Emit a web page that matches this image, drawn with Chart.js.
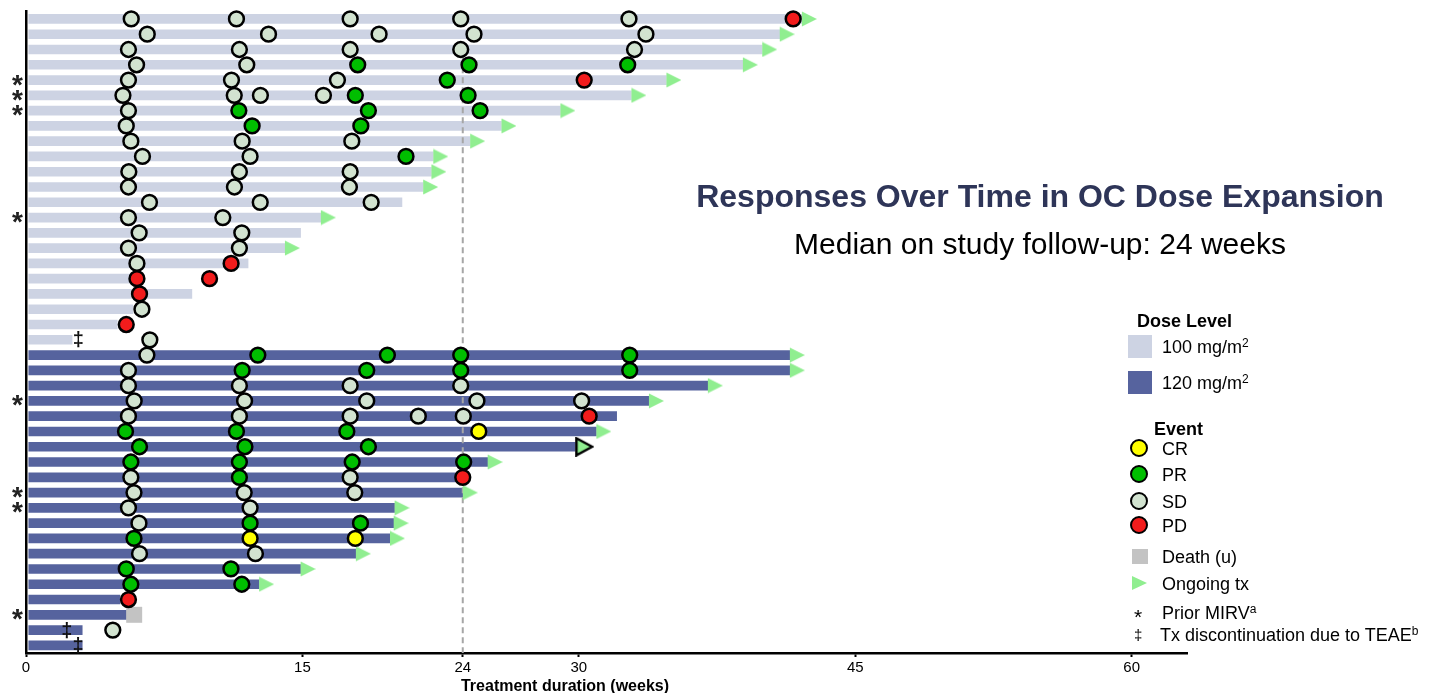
<!DOCTYPE html>
<html>
<head>
<meta charset="utf-8">
<title>Responses Over Time in OC Dose Expansion</title>
<script src="https://cdn.jsdelivr.net/npm/chart.js@4.4.1/dist/chart.umd.min.js"></script>
<style>
    body { margin: 0; background: #fff; font-family: 'Liberation Sans', Arial, sans-serif; }
    #wrap { position: relative; width: 1431px; height: 693px; overflow: hidden; }
    #swimmer { position: absolute; left: 0; top: 0; }
    .txt { position: absolute; white-space: nowrap; transform: translateY(-50%); color: #000; }
    .lg { font-size: 18px; line-height: 22px; }
    .lg sup { font-size: 12px; line-height: 0; vertical-align: 6px; }
    .bold { font-weight: bold; }
    .sw { position: absolute; width: 24px; height: 23px; }
    .dot { position: absolute; width: 14px; height: 14px; border: 2.5px solid #000; border-radius: 50%; }
</style>
</head>
<body>
<div id="wrap">
    <canvas id="swimmer" width="1431" height="693"></canvas>

    <div class="txt bold" style="left:640px; width:800px; text-align:center; top:196px; font-size:32px; line-height:38px; color:#2E3558;">Responses Over Time in OC Dose Expansion</div>
    <div class="txt" style="left:640px; width:800px; text-align:center; top:244px; font-size:30px; line-height:36px;">Median on study follow-up: 24 weeks</div>

    <div class="txt bold" style="left:365px; width:400px; text-align:center; top:686px; font-size:16px; line-height:18px;">Treatment duration (weeks)</div>

    <div class="txt lg bold" style="left:1137px; top:321px;">Dose Level</div>
    <div class="sw" style="left:1128px; top:335px; background:#CDD3E3;"></div>
    <div class="txt lg" style="left:1162px; top:347px;">100 mg/m<sup>2</sup></div>
    <div class="sw" style="left:1128px; top:371px; background:#56639E;"></div>
    <div class="txt lg" style="left:1162px; top:383px;">120 mg/m<sup>2</sup></div>

    <div class="txt lg bold" style="left:1154px; top:429px;">Event</div>
    <div class="dot" style="left:1129.5px; top:438.5px; background:#FFFF00;"></div>
    <div class="txt lg" style="left:1162px; top:449px;">CR</div>
    <div class="dot" style="left:1129.5px; top:464.5px; background:#00BE00;"></div>
    <div class="txt lg" style="left:1162px; top:475px;">PR</div>
    <div class="dot" style="left:1129.5px; top:492px; background:#D2E3D0;"></div>
    <div class="txt lg" style="left:1162px; top:502px;">SD</div>
    <div class="dot" style="left:1129.5px; top:516px; background:#F21C1C;"></div>
    <div class="txt lg" style="left:1162px; top:526px;">PD</div>
    <div class="sw" style="left:1132px; top:549px; width:16px; height:15px; background:#C3C3C3;"></div>
    <div class="txt lg" style="left:1162px; top:557px;">Death (u)</div>
    <div style="position:absolute; left:1132px; top:576px; width:0; height:0; border-top:7px solid transparent; border-bottom:7px solid transparent; border-left:15px solid #90EE90;"></div>
    <div class="txt lg" style="left:1162px; top:584px;">Ongoing tx</div>
    <div class="txt" style="left:1134px; top:617px; font-size:21px; line-height:20px;">*</div>
    <div class="txt lg" style="left:1162px; top:613px;">Prior MIRV<sup>a</sup></div>
    <div class="txt" style="left:1134px; top:635px; font-size:15px; line-height:14px;">‡</div>
    <div class="txt lg" style="left:1160px; top:635px;">Tx discontinuation due to TEAE<sup>b</sup></div>
</div>

<script>
// um paciente por linha, de cima para baixo
const patientIds = [1, 2, 3, 4, 5, 6, 7, 8, 9, 10, 11, 12, 13, 14, 15, 16, 17, 18, 19, 20, 21,
    22, 23, 24, 25, 26, 27, 28, 29, 30, 31, 32, 33, 34, 35, 36, 37, 38, 39, 40, 41, 42];

// duração do tratamento (semanas), pacientes 1-22 a 100 mg/m2, 23-42 a 120 mg/m2
const weeks100 = [42.1, 40.9, 39.95, 38.9, 34.75, 32.85, 29.0, 25.8, 24.1, 22.1, 22.0,
    21.55, 20.4, 16.0, 14.9, 14.05, 12.05, 6.0, 9.0, 5.8, 4.95, 2.5];
const weeks120 = [41.45, 41.45, 37.0, 33.8, 32.05, 30.95, 29.8, 25.05, 23.7, 23.7, 20.0,
    19.95, 19.75, 17.9, 14.9, 12.65, 5.1, 5.45, 3.05, 3.05];

// eventos: [paciente, semana]
const crEvents = [[28, 24.57], [35, 12.16], [35, 17.87]];
const prEvents = [
    [4, 18.0], [4, 24.04], [4, 32.65], [5, 22.86], [6, 17.87], [6, 23.99],
    [7, 11.55], [7, 18.58], [7, 24.64], [8, 12.27], [8, 18.17], [10, 20.62],
    [23, 12.58], [23, 19.61], [23, 23.59], [23, 32.76],
    [24, 11.73], [24, 18.49], [24, 23.59], [24, 32.76],
    [28, 5.4], [28, 11.42], [28, 17.41], [29, 6.16], [29, 11.88], [29, 18.58],
    [30, 5.69], [30, 11.58], [30, 17.7], [30, 23.75], [31, 11.58],
    [34, 12.16], [34, 18.15], [35, 5.86], [37, 5.44], [37, 11.12], [38, 5.69], [38, 11.71]
];
const sdEvents = [
    [1, 5.71], [1, 11.42], [1, 17.59], [1, 23.59], [1, 32.72],
    [2, 6.58], [2, 13.16], [2, 19.16], [2, 24.31], [2, 33.64],
    [3, 5.56], [3, 11.58], [3, 17.59], [3, 23.59], [3, 33.02],
    [4, 6.0], [4, 11.98], [5, 5.56], [5, 11.15], [5, 16.9],
    [6, 5.26], [6, 11.3], [6, 12.72], [6, 16.14], [7, 5.56], [8, 5.44],
    [9, 5.69], [9, 11.73], [9, 17.68], [10, 6.32], [10, 12.16],
    [11, 5.58], [11, 11.58], [11, 17.59], [12, 5.56], [12, 11.31], [12, 17.55],
    [13, 6.7], [13, 12.71], [13, 18.73], [14, 5.56], [14, 10.68],
    [15, 6.14], [15, 11.71], [16, 5.56], [16, 11.58], [17, 6.02], [20, 6.29], [22, 6.72],
    [23, 6.56], [24, 5.56], [25, 5.56], [25, 11.58], [25, 17.59], [25, 23.59],
    [26, 5.87], [26, 11.86], [26, 18.49], [26, 24.47], [26, 30.15],
    [27, 5.56], [27, 11.58], [27, 17.59], [27, 21.29], [27, 23.73],
    [31, 5.69], [31, 17.59], [32, 5.86], [32, 11.84], [32, 17.84],
    [33, 5.56], [33, 12.16], [34, 6.13], [36, 6.16], [36, 12.45], [41, 4.71]
];
const pdEvents = [
    [1, 41.63], [5, 30.29], [17, 11.13], [18, 6.02], [18, 9.96], [19, 6.16],
    [21, 5.44], [27, 30.56], [31, 23.7], [39, 5.56]
];
const deathEvents = [[40, 5.87]];

const ongoingRows = [1, 2, 3, 4, 5, 6, 7, 8, 9, 10, 11, 12, 14, 16, 23, 24, 25, 26, 28, 30,
    32, 33, 34, 35, 36, 37, 38];
const ongoingOutlinedRows = [29];
const priorMirvRows = [5, 6, 7, 14, 26, 32, 33, 40];
const discontinuations = [[22, 2.84], [41, 2.21], [42, 2.82]];

const medianWeeks = 23.7;
const tickValues = [0, 15, 23.7, 30, 45, 60];
const tickLabels = ['0', '15', '24', '30', '45', '60'];

const barStart = 0.15;
const fontFamily = "'Liberation Sans', Arial, sans-serif";
const treatmentWeeks = weeks100.concat(weeks120);

function toPoints(events) {
    return events.map(([row, week]) => ({ x: week, y: row }));
}

// seta de "em tratamento": o triângulo fica na metade direita, começa no fim da barra
function makeArrow(fill, stroke) {
    const c = document.createElement('canvas');
    if (stroke) {
        c.width = 38; c.height = 20;
        const ctx = c.getContext('2d');
        ctx.beginPath();
        ctx.moveTo(20.25, 1.5); ctx.lineTo(36, 10); ctx.lineTo(20.25, 18.5); ctx.closePath();
        ctx.fillStyle = fill; ctx.fill();
        ctx.lineWidth = 2.5; ctx.strokeStyle = stroke; ctx.stroke();
    } else {
        c.width = 30; c.height = 16;
        const ctx = c.getContext('2d');
        ctx.beginPath();
        ctx.moveTo(15, 0.5); ctx.lineTo(30, 8); ctx.lineTo(15, 15.5); ctx.closePath();
        ctx.fillStyle = fill; ctx.fill();
    }
    return c;
}

function circleDataset(label, events, color) {
    return {
        type: 'scatter',
        label: label,
        data: toPoints(events),
        pointRadius: 7.4,
        pointBackgroundColor: color,
        pointBorderColor: '#000',
        pointBorderWidth: 2.5,
        clip: false,
        order: 1
    };
}

const marcasPlugin = {
    id: 'marcas',
    afterDatasetDraw(chart, args) {
        if (args.index !== 1) return;
        const { ctx, chartArea, scales: { x, y } } = chart;
        const px = x.getPixelForValue(medianWeeks);
        ctx.save();
        ctx.strokeStyle = '#A6A6A6';
        ctx.lineWidth = 2;
        ctx.setLineDash([6, 4]);
        ctx.beginPath();
        ctx.moveTo(px, y.getPixelForValue(2.5));
        ctx.lineTo(px, chartArea.bottom);
        ctx.stroke();
        ctx.restore();
    },
    afterDatasetsDraw(chart) {
        const { ctx, chartArea, scales: { x, y } } = chart;
        ctx.save();
        ctx.fillStyle = '#222';
        ctx.textAlign = 'center';
        ctx.textBaseline = 'alphabetic';

        ctx.font = `bold 28px ${fontFamily}`;
        let m = ctx.measureText('*');
        let shift = (m.actualBoundingBoxAscent - m.actualBoundingBoxDescent) / 2;
        priorMirvRows.forEach(r => {
            const py = y.getPixelForValue(patientIds.indexOf(r));
            ctx.fillText('*', chartArea.left - 8.5, py + shift);
        });

        ctx.fillStyle = '#111';
        ctx.font = `bold 20px ${fontFamily}`;
        m = ctx.measureText('‡');
        shift = (m.actualBoundingBoxAscent - m.actualBoundingBoxDescent) / 2;
        discontinuations.forEach(([r, week]) => {
            const py = y.getPixelForValue(patientIds.indexOf(r));
            ctx.fillText('‡', x.getPixelForValue(week), py + shift);
        });
        ctx.restore();
    }
};

const arrowPlain = makeArrow('#90EE90');
const arrowOutlined = makeArrow('#90EE90', '#000');

new Chart(document.getElementById('swimmer'), {
    type: 'bar',
    data: {
        labels: patientIds,
        datasets: [
            {
                label: '100 mg/m2',
                data: patientIds.map((id, i) => i < weeks100.length ? [barStart, weeks100[i]] : null),
                backgroundColor: '#CDD3E3',
                barThickness: 9,
                grouped: false,
                order: 4
            },
            {
                label: '120 mg/m2',
                data: patientIds.map((id, i) => i >= weeks100.length ? [barStart, weeks120[i - weeks100.length]] : null),
                backgroundColor: '#56639E',
                barThickness: 9,
                grouped: false,
                order: 3
            },
            {
                type: 'scatter',
                label: 'Death (u)',
                data: toPoints(deathEvents),
                pointStyle: 'rect',
                pointRadius: 11.3,
                pointBackgroundColor: '#C3C3C3',
                pointBorderWidth: 0,
                clip: false,
                order: 2
            },
            {
                type: 'scatter',
                label: 'Ongoing tx',
                data: ongoingRows.map(r => ({ x: treatmentWeeks[r - 1], y: r })),
                pointStyle: arrowPlain,
                pointRadius: 8,
                clip: false,
                order: 2
            },
            {
                type: 'scatter',
                label: 'Ongoing tx (outlined)',
                data: ongoingOutlinedRows.map(r => ({ x: treatmentWeeks[r - 1], y: r })),
                pointStyle: arrowOutlined,
                pointRadius: 8,
                clip: false,
                order: 2
            },
            circleDataset('SD', sdEvents, '#D2E3D0'),
            circleDataset('PR', prEvents, '#00BE00'),
            circleDataset('CR', crEvents, '#FFFF00'),
            circleDataset('PD', pdEvents, '#F21C1C')
        ]
    },
    options: {
        indexAxis: 'y',
        responsive: false,
        devicePixelRatio: 1,
        animation: false,
        events: [],
        layout: { padding: { top: 10, right: 244, bottom: 0, left: 0 } },
        plugins: { legend: { display: false }, tooltip: { enabled: false } },
        scales: {
            x: {
                type: 'linear',
                min: 0,
                max: 63,
                afterBuildTicks: s => { s.ticks = tickValues.map(v => ({ value: v })); },
                afterFit: s => { s.height = 40; },
                ticks: {
                    callback: (v, i) => tickLabels[i],
                    autoSkip: false,
                    maxRotation: 0,
                    padding: 2,
                    color: '#000',
                    font: { family: fontFamily, size: 15 }
                },
                grid: { display: true, drawOnChartArea: false, drawTicks: true, tickLength: 4, tickColor: '#000', tickWidth: 2 },
                border: { display: true, color: '#000', width: 2.5 }
            },
            y: {
                type: 'category',
                offset: true,
                afterFit: s => { s.width = 26; },
                ticks: { display: false },
                grid: { display: false },
                border: { display: true, color: '#000', width: 2.5 }
            }
        }
    },
    plugins: [marcasPlugin]
});
</script>
</body>
</html>
